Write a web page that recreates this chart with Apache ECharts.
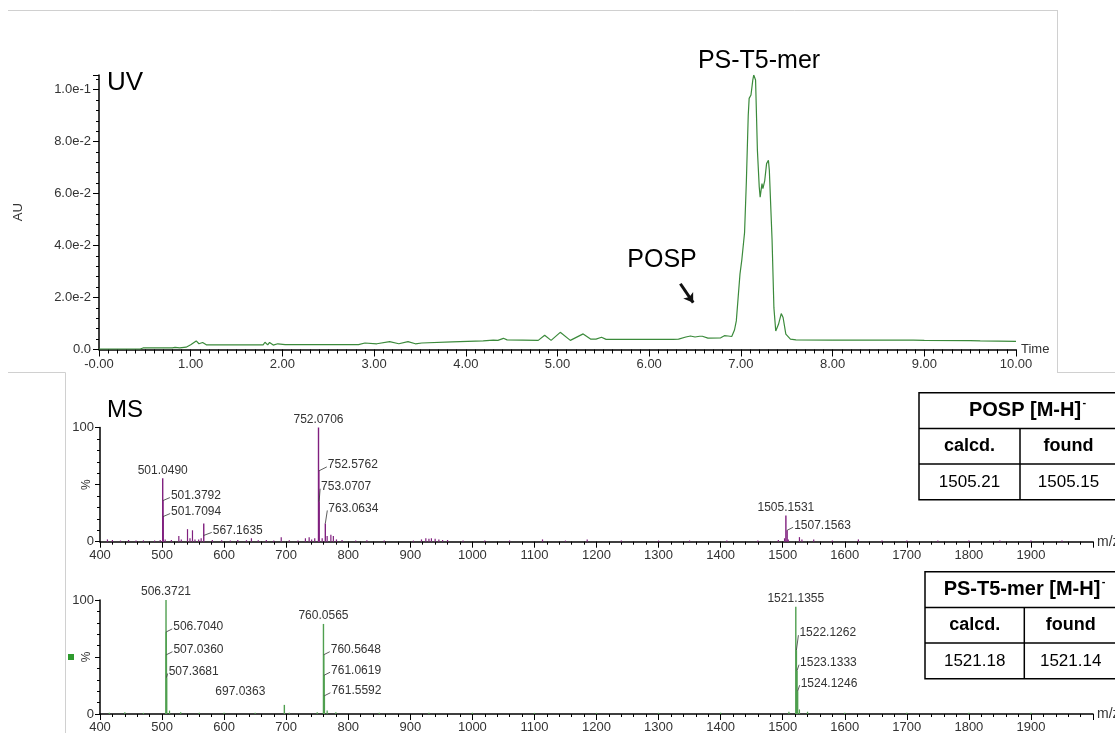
<!DOCTYPE html>
<html><head><meta charset="utf-8">
<script src="https://cdn.jsdelivr.net/npm/echarts@6/dist/echarts.min.js"></script>
<style>html,body{margin:0;padding:0;background:#fff}#c{width:1115px;height:733px}</style>
</head><body><div id="c"></div>
<script>
// ---------------- DATA ----------------
// UV chromatogram (time in min, absorbance in AU)
const uvTime = [0.00,0.45,0.48,0.80,0.83,0.88,0.95,1.00,1.06,1.09,1.13,1.17,1.40,1.79,1.81,1.84,1.86,1.90,1.95,2.03,2.50,2.83,2.90,3.03,3.17,3.27,3.37,3.45,3.52,3.85,4.19,4.30,4.35,4.41,4.45,4.79,4.86,4.93,5.03,5.14,5.28,5.36,5.42,5.48,5.53,6.26,6.32,6.40,6.45,6.50,6.55,6.58,6.64,6.78,6.82,6.86,6.90,6.93,6.95,6.97,6.99,7.01,7.02,7.03,7.04,7.06,7.08,7.09,7.11,7.13,7.14,7.16,7.18,7.20,7.21,7.23,7.24,7.26,7.28,7.30,7.31,7.34,7.36,7.38,7.41,7.44,7.46,7.49,7.54,7.60,8.00,8.50,8.88,9.00,9.50,9.61,10.00];
const uvAU   = [0.0002,0.0002,0.0006,0.0006,0.0008,0.0006,0.0009,0.0018,0.0033,0.0022,0.0027,0.0018,0.0018,0.0018,0.0028,0.0018,0.0027,0.0017,0.0022,0.0019,0.0019,0.0019,0.0025,0.0022,0.0030,0.0022,0.0030,0.0022,0.0025,0.0029,0.0033,0.0036,0.0035,0.0043,0.0037,0.0035,0.0055,0.0035,0.0066,0.0035,0.0060,0.0040,0.0040,0.0047,0.0039,0.0039,0.0040,0.0048,0.0052,0.0048,0.0051,0.0051,0.0044,0.0045,0.0053,0.0052,0.0050,0.0075,0.0110,0.0200,0.0290,0.0345,0.0348,0.0340,0.0450,0.0650,0.0900,0.0966,0.0979,0.1037,0.1056,0.1037,0.0766,0.0625,0.0586,0.0638,0.0619,0.0650,0.0715,0.0728,0.0690,0.0420,0.0160,0.0071,0.0097,0.0138,0.0123,0.0059,0.0040,0.0037,0.0036,0.0036,0.0036,0.0035,0.0034,0.0033,0.0031];
const uvYTickValues = [0, 0.02, 0.04, 0.06, 0.08, 0.10];
const uvYTickLabels = ['0.0', '2.0e-2', '4.0e-2', '6.0e-2', '8.0e-2', '1.0e-1'];
const uvXTickValues = [0,1,2,3,4,5,6,7,8,9,10];
const uvXTickLabels = ['-0.00','1.00','2.00','3.00','4.00','5.00','6.00','7.00','8.00','9.00','10.00'];
const msXTickLabels = ['400','500','600','700','800','900','1000','1100','1200','1300','1400','1500','1600','1700','1800','1900'];

// MS spectrum 1 (POSP) - labelled peaks
const ms1LabMz  = [501.0490, 501.3792, 501.7094, 567.1635, 752.0706, 752.5762, 753.0707, 763.0634, 1505.1531, 1507.1563];
const ms1LabInt = [55.5, 36, 22, 16, 100, 62, 35, 16, 23, 10];
// MS spectrum 1 - minor unlabelled peaks
const ms1MinMz  = [412,420,433,446,458,470,488,497,505,515,527,531,541,545,549,553,559,563,581,596,610,622,636,644,655,668,680,692,705,719,731,737,741,746,758,766,772,776,781,790,812,830,858,905,918,925,930,934,940,946,952,960,985,1020,1060,1113,1150,1185,1240,1300,1350,1410,1460,1493,1503,1509,1527,1531,1550,1580,1622,1660,1700,1750,1800,1850,1900,1950];
const ms1MinInt = [2,1.5,1,1.5,1,1.2,1,1.5,2,1.5,5,2,11,3,10,2,2,3,1.5,1.2,1,1.5,1.3,3,1.2,1.5,1,4,1.3,1,3,4,2,3,3,5,6,5,2,1.5,1,1.2,1,1,2,3,2.5,3,2.5,2,1.5,1.5,1,1,1,2,1,2,1,1,1,1,1,1.5,3,2,4,2,2,1,2,1,1,1,1,1,1,1];

// MS spectrum 2 (PS-T5-mer) - labelled peaks
const ms2LabMz  = [506.3721, 506.7040, 507.0360, 507.3681, 697.0363, 760.0565, 760.5648, 761.0619, 761.5592, 1521.1355, 1522.1262, 1523.1333, 1524.1246];
const ms2LabInt = [100, 72, 52, 32, 8, 79, 52, 34, 16, 94, 56, 38, 20];
// MS spectrum 2 - minor unlabelled peaks
const ms2MinMz  = [415,440,470,512,530,560,600,650,705,750,766,780,850,930,1000,1100,1200,1300,1400,1510,1527,1540,1600,1700,1800,1900];
const ms2MinInt = [1,1.5,1,3,1.5,1,1,1,1,1.5,3,1.5,1,1,1,1,1,1,1,2,4,2,1,1,1,1];

// ---------------- LAYOUT / STYLE ----------------
const FONT = 'Liberation Sans, Arial, Helvetica, sans-serif';
// label placement: 'top' = centred above the peak; [dx, dy, leaderStart] = left-aligned with leader; {cx, cy} = free centred offset
const ms1LabelLayout = ['top',[8,-5,0],[8,-5,0],[9,7,12],'top',[9,-6,0],[2,-15,0],[3,-15,0],'top',[7,-5,0]];
const ms2LabelLayout = ['top',[7,-5,0],[7,-5,0],[2,-6,0],{cx:-44, cy:-13},'top',[7,-5,0],[7,-5,0],[7,-5,0],'top',[3,-17,0],[3,-8,0],[3,-8,0]];
const arrowAnno = [[6.34, 0.0253], [6.48, 0.018]];

const axisLine = {show:true, onZero:false, lineStyle:{color:'#000', width:1.5}};
const axisTick = {show:true, length:6, lineStyle:{color:'#000', width:1}};
const noSplit = {show:false};
const labelStyle = {color:'#333', fontSize:13, fontFamily:FONT};

function msXAxis(gi) {
  return {
    type:'value', gridIndex:gi, min:400, max:2000, interval:100,
    axisLine, axisTick:{...axisTick, length:6}, minorTick:{show:true, splitNumber:5, length:3, lineStyle:{color:'#000'}},
    splitLine:noSplit, minorSplitLine:noSplit,
    axisLabel:{...labelStyle, margin:7, showMinLabel:true, showMaxLabel:true,
      formatter:v => { const i = Math.round((v-400)/100); return (Math.abs(v-400-i*100)<1e-6 && i>=0 && i<msXTickLabels.length) ? msXTickLabels[i] : ''; }},
    name:'m/z', nameLocation:'end', nameGap:4, nameMoveOverlap:false,
    nameTextStyle:{color:'#333', fontSize:14, fontFamily:FONT, verticalAlign:'middle'}
  };
}
function msYAxis(gi) {
  return {
    type:'value', gridIndex:gi, min:0, max:100, interval:50,
    axisLine, axisTick:{...axisTick, length:5}, minorTick:{show:true, splitNumber:5, length:3, lineStyle:{color:'#000'}},
    splitLine:noSplit, minorSplitLine:noSplit,
    axisLabel:{...labelStyle, margin:6, formatter:v => (v===0||v===100) ? String(v) : ''},
    name:'%', nameLocation:'middle', nameGap:7, nameRotate:90, nameMoveOverlap:false,
    nameTextStyle:{color:'#333', fontSize:12, fontFamily:FONT}
  };
}

function peakSeries(ai, mz, inten, color, w) {
  return {
    type:'custom', xAxisIndex:ai, yAxisIndex:ai, silent:true, z:3,
    data: mz.map((m,i)=>[m, inten[i]]), encode:{x:0, y:1},
    renderItem:(p, api) => {
      const a = api.coord([api.value(0), 0]);
      const b = api.coord([api.value(0), api.value(1)]);
      return {type:'line', shape:{x1:a[0], y1:a[1], x2:b[0], y2:b[1]}, style:{stroke:color, lineWidth:w}};
    }
  };
}
function labelSeries(ai, mz, inten, layout) {
  return {
    type:'custom', xAxisIndex:ai, yAxisIndex:ai, silent:true, z:4,
    data: mz.map((m,i)=>[m, inten[i], i]), encode:{x:0, y:1},
    renderItem:(p, api) => {
      const i = api.value(2);
      const txt = mz[i].toFixed(4);
      const t = api.coord([api.value(0), api.value(1)]);
      const lay = layout[i];
      const font = '12px ' + FONT;
      const base = {fill:'#333', font, verticalAlign:'middle', textVerticalAlign:'middle'};
      if (lay === 'top') {
        return {type:'text', style:{...base, text:txt, x:t[0], y:t[1]-8, align:'center', textAlign:'center'}};
      }
      if (!Array.isArray(lay)) {
        return {type:'text', style:{...base, text:txt, x:t[0]+lay.cx, y:t[1]+lay.cy, align:'center', textAlign:'center'}};
      }
      const [dx, dy, ly] = lay;
      return {type:'group', children:[
        {type:'line', shape:{x1:t[0], y1:t[1]+ly, x2:t[0]+dx-1, y2:t[1]+dy+2}, style:{stroke:'#333', lineWidth:0.8}},
        {type:'text', style:{...base, text:txt, x:t[0]+dx, y:t[1]+dy, align:'left', textAlign:'left'}}
      ]};
    }
  };
}

const measureCtx = document.createElement('canvas').getContext('2d');
function textWidth(txt, font) { measureCtx.font = font; return measureCtx.measureText(txt).width; }

function table(x, y, w, rowH, colX, headCx, header, c1, c2) {
  const els = [];
  els.push({type:'rect', shape:{x, y, width:w, height:rowH*3}, style:{fill:'#fff', stroke:'#000', lineWidth:1.5}, z:10});
  els.push({type:'line', shape:{x1:x, y1:y+rowH, x2:x+w, y2:y+rowH}, style:{stroke:'#000', lineWidth:1.5}, z:11});
  els.push({type:'line', shape:{x1:x, y1:y+2*rowH, x2:x+w, y2:y+2*rowH}, style:{stroke:'#000', lineWidth:1.5}, z:11});
  els.push({type:'line', shape:{x1:colX, y1:y+rowH, x2:colX, y2:y+3*rowH}, style:{stroke:'#000', lineWidth:1.5}, z:11});
  const mid1 = (x+colX)/2, mid2 = (colX + 1117)/2;
  const hFont = 'bold 20px ' + FONT;
  const hw = textWidth(header, hFont);
  els.push({type:'text', z:12, style:{text:header, x:headCx, y:y+rowH/2, font:hFont, fill:'#000', align:'center', verticalAlign:'middle'}});
  els.push({type:'text', z:12, style:{text:'-', x:headCx+hw/2+1.5, y:y+rowH/2-8, font:'bold 11px '+FONT, fill:'#000', align:'left', verticalAlign:'middle'}});
  els.push({type:'text', z:12, style:{text:'calcd.', x:mid1, y:y+rowH*1.5, font:'bold 18px '+FONT, fill:'#000', align:'center', verticalAlign:'middle'}});
  els.push({type:'text', z:12, style:{text:'found', x:mid2, y:y+rowH*1.5, font:'bold 18px '+FONT, fill:'#000', align:'center', verticalAlign:'middle'}});
  els.push({type:'text', z:12, style:{text:c1, x:mid1, y:y+rowH*2.5, font:'17px '+FONT, fill:'#000', align:'center', verticalAlign:'middle'}});
  els.push({type:'text', z:12, style:{text:c2, x:mid2, y:y+rowH*2.5, font:'17px '+FONT, fill:'#000', align:'center', verticalAlign:'middle'}});
  return els;
}

const gray = {stroke:'#d0d0d0', lineWidth:1};
const option = {
  animation:false,
  backgroundColor:'#fff',
  grid:[
    {left:99, right:99, top:75, bottom:383.5, containLabel:false, outerBoundsMode:'none'},
    {left:100, right:22, top:427.5, bottom:191.3, containLabel:false, outerBoundsMode:'none'},
    {left:100, right:22, top:600, bottom:19, containLabel:false, outerBoundsMode:'none'}
  ],
  xAxis:[
    {type:'value', gridIndex:0, min:0, max:10, interval:1,
     axisLine, axisTick:{...axisTick, length:7}, minorTick:{show:true, splitNumber:10, length:4, lineStyle:{color:'#000'}},
     splitLine:noSplit, minorSplitLine:noSplit,
     axisLabel:{...labelStyle, margin:8, showMinLabel:true, showMaxLabel:true,
       formatter:v => { const i = uvXTickValues.findIndex(t=>Math.abs(t-v)<1e-9); return i>=0 ? uvXTickLabels[i] : ''; }},
     name:'Time', nameLocation:'end', nameGap:5, nameMoveOverlap:false,
     nameTextStyle:{color:'#333', fontSize:13, fontFamily:FONT, verticalAlign:'middle'}},
    msXAxis(1), msXAxis(2)
  ],
  yAxis:[
    {type:'value', gridIndex:0, min:0, max:0.1056, interval:0.02,
     axisLine, axisTick:{...axisTick, length:6}, minorTick:{show:true, splitNumber:5, length:3, lineStyle:{color:'#000'}},
     splitLine:noSplit, minorSplitLine:noSplit,
     axisLabel:{...labelStyle, margin:8, showMaxLabel:true,
       formatter:v => { const i = uvYTickValues.findIndex(t=>Math.abs(t-v)<1e-9); return i>=0 ? uvYTickLabels[i] : ''; }},
     name:'AU', nameLocation:'middle', nameGap:74, nameRotate:90, nameMoveOverlap:false,
     nameTextStyle:{color:'#333', fontSize:13, fontFamily:FONT}},
    msYAxis(1), msYAxis(2)
  ],
  series:[
    {type:'line', xAxisIndex:0, yAxisIndex:0, data:uvTime.map((t,i)=>[t, uvAU[i]]),
     showSymbol:false, symbol:'none', smooth:false, silent:true,
     lineStyle:{color:'#3b8a3b', width:1.2},
     markLine:{silent:true, symbol:['none','arrow'], symbolSize:[9,9], label:{show:false},
       lineStyle:{color:'#111', width:3, type:'solid'},
       data:[[{coord:arrowAnno[0]}, {coord:arrowAnno[1]}]]}},
    peakSeries(1, ms1MinMz, ms1MinInt, '#80207f', 1.2),
    peakSeries(1, ms1LabMz, ms1LabInt, '#80207f', 1.4),
    labelSeries(1, ms1LabMz, ms1LabInt, ms1LabelLayout),
    peakSeries(2, ms2MinMz, ms2MinInt, '#4f9f4f', 1.2),
    peakSeries(2, ms2LabMz, ms2LabInt, '#4f9f4f', 1.4),
    labelSeries(2, ms2LabMz, ms2LabInt, ms2LabelLayout)
  ],
  graphic:[
    {type:'line', shape:{x1:8, y1:10.5, x2:1057, y2:10.5}, style:gray},
    {type:'line', shape:{x1:1057.5, y1:10, x2:1057.5, y2:372.5}, style:gray},
    {type:'line', shape:{x1:1057, y1:372.5, x2:1115, y2:372.5}, style:gray},
    {type:'line', shape:{x1:8, y1:372.5, x2:65.5, y2:372.5}, style:gray},
    {type:'line', shape:{x1:65.5, y1:372.5, x2:65.5, y2:733}, style:gray},
    {type:'text', style:{text:'UV', x:107, y:83, font:'26px '+FONT, fill:'#000', align:'left', verticalAlign:'middle'}},
    {type:'text', style:{text:'MS', x:107, y:410, font:'24px '+FONT, fill:'#000', align:'left', verticalAlign:'middle'}},
    {type:'text', style:{text:'PS-T5-mer', x:759, y:61, font:'25px '+FONT, fill:'#000', align:'center', verticalAlign:'middle'}},
    {type:'text', style:{text:'POSP', x:662, y:260, font:'25px '+FONT, fill:'#000', align:'center', verticalAlign:'middle'}},
    {type:'rect', shape:{x:68, y:654, width:6, height:6}, style:{fill:'#2e9a2e'}},
    ...table(919, 392.7, 200, 35.7, 1020, 1025, 'POSP [M-H]', '1505.21', '1505.15'),
    ...table(925, 571.7, 195, 35.7, 1024.3, 1022, 'PS-T5-mer [M-H]', '1521.18', '1521.14')
  ]
};
const chart = echarts.init(document.getElementById('c'), null, {renderer:'canvas'});
chart.setOption(option);
</script></body></html>
